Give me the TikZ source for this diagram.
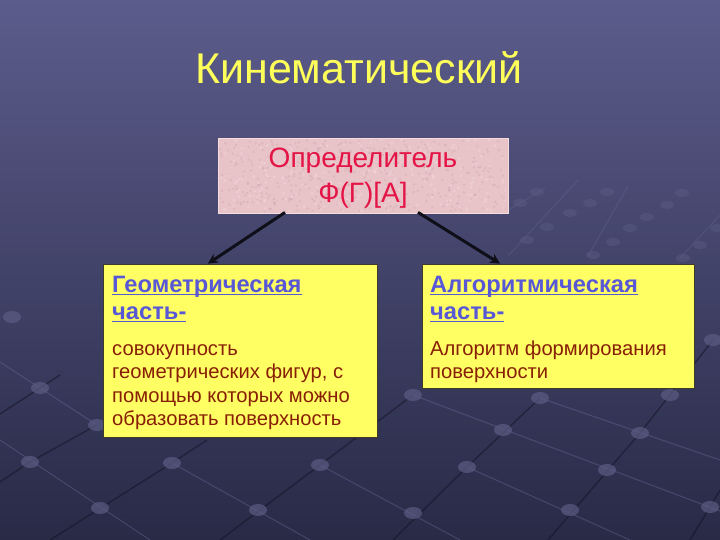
\documentclass[tikz,border=0pt]{standalone}
\usepackage{fontspec}
\setmainfont{Liberation Sans}
\usetikzlibrary{arrows.meta,shadings}

\definecolor{bgtop}{RGB}{92,92,140}
\definecolor{bgbot}{RGB}{40,42,70}
\definecolor{titlec}{RGB}{255,255,90}
\definecolor{pinkf}{RGB}{232,196,200}
\definecolor{pinkd}{RGB}{200,160,168}
\definecolor{pinkl}{RGB}{245,220,222}
\definecolor{crim}{RGB}{228,20,70}
\definecolor{yell}{RGB}{255,255,100}
\definecolor{headc}{RGB}{88,88,215}
\definecolor{bodyc}{RGB}{135,30,5}
\definecolor{gridl}{RGB}{115,115,160}
\definecolor{gridd}{RGB}{22,22,42}
\definecolor{dotc}{RGB}{92,92,132}
\definecolor{arrc}{RGB}{15,15,25}

\newcommand\myul[1]{\setbox0\hbox{#1}\rlap{\rule[-3.4pt]{\wd0}{1.9pt}}\box0}

\tikzset{
  lightline/.style={draw=gridl, line width=1.1pt, opacity=0.35},
  darkline/.style={draw=gridd, line width=1.4pt, opacity=0.6},
  griddot/.style={fill=dotc, opacity=0.7},
  fardot/.style={fill=dotc, opacity=0.45},
  ybox/.style={fill=yell, draw={rgb,255:red,60;green,60;blue,40}, line width=0.8pt, inner sep=0pt},
  headtxt/.style={anchor=base west, inner sep=0pt, text=headc, font=\fontsize{23.7}{28}\selectfont\bfseries},
  bodytxt/.style={anchor=base west, inner sep=0pt, text=bodyc, font=\fontsize{20.2}{24}\selectfont},
  dettxt/.style={anchor=base, inner sep=0pt, text=crim, font=\fontsize{28}{34}\selectfont},
  arr/.style={draw=arrc, line width=3pt, -{Stealth[length=10pt,width=10pt]}}
}

\begin{document}
\begin{tikzpicture}[x=1pt,y=-1pt]
\useasboundingbox (0,0) rectangle (720,540);
\shade[top color=bgtop, bottom color=bgbot] (0,0) rectangle (720,540);

% background perspective grid
\foreach \a/\b/\c/\d in {0/440/150/540, 172/463/310/540, 320/465/460/540, 413/395/720/511, 467/467/630/540, 540/398/720/460, 0/362/97/425}
  \path[lightline] (\a,\b) -- (\c,\d);
\foreach \a/\b/\c/\d/\e/\f in {713/340/640/433/548/540, 540/398/467/467/393/540, 413/395/320/465/220/540, 207/440/172/463/50/540, 97/425/30/462/0/482, 60/375/40/388/0/414, 720/490/710/507/690/540}
  \path[darkline] (\a,\b) -- (\c,\d) -- (\e,\f);
\foreach \x/\y in {40/388,413/395,540/398,670/395,97/425,503/430,640/433,30/462,172/463,320/465,467/467,607/470,100/508,258/510,413/513,570/510,710/507,12/317,713/340}
  \fill[griddot] (\x,\y) ellipse (9 and 6);
% far grid (upper right)
\foreach \a/\b/\c/\d in {508/256/578/180, 588/256/628/186, 680/258/720/215, 500/215/545/188}
  \path[lightline, opacity=0.25] (\a,\b) -- (\c,\d);
\foreach \x/\y in {537/192,520/203,570/213,547/227,527/240,590/203,607/192,647/217,630/228,613/242,593/255,667/205,682/193,700/245,683/258,717/228}
  \fill[fardot] (\x,\y) ellipse (7 and 4);

% title
\node[anchor=base, inner sep=0pt, text=titlec, font=\fontsize{43}{50}\selectfont] (title) at (359,84) {Кинематический};

% determinant box
\node[fill=pinkf, draw=pinkl, line width=0.8pt, minimum width=290pt, minimum height=75pt, inner sep=0pt] (det) at (363,175.5) {};
\pgfmathsetseed{7}
\foreach \i in {1,...,420} {
  \pgfmathsetmacro\px{220+286*rnd}
  \pgfmathsetmacro\py{140+71*rnd}
  \fill[pinkd, opacity=0.35] (\px,\py) circle (1.3);
}
\foreach \i in {1,...,250} {
  \pgfmathsetmacro\px{220+286*rnd}
  \pgfmathsetmacro\py{140+71*rnd}
  \fill[pinkl, opacity=0.5] (\px,\py) circle (1.3);
}
\node[dettxt] (detl1) at (363,168) {Определитель};
\node[dettxt] (detl2) at (363,203) {Ф(Г)[А]};

% yellow boxes
\node[ybox, minimum width=274pt, minimum height=173pt] (geo) at (240,350.5) {};
\node[ybox, minimum width=272pt, minimum height=124pt] (alg) at (558,326) {};

\node[headtxt] (geoh1) at (112,292) {\myul{Геометрическая}};
\node[headtxt] (geoh2) at (112,319) {\myul{часть-}};
\node[bodytxt] (geob1) at (112,355) {совокупность};
\node[bodytxt] (geob2) at (112,378.5) {геометрических фигур, с};
\node[bodytxt] (geob3) at (112,402) {помощью которых можно};
\node[bodytxt] (geob4) at (112,425.5) {образовать поверхность};

\node[headtxt] (algh1) at (430,292) {\myul{Алгоритмическая}};
\node[headtxt] (algh2) at (430,319) {\myul{часть-}};
\node[bodytxt] (algb1) at (430,355) {Алгоритм формирования};
\node[bodytxt] (algb2) at (430,378.5) {поверхности};

% arrows
\draw[arr] ([xshift=-78pt,yshift=1pt]det.south) -- ([xshift=-32pt]geo.north);
\draw[arr] ([xshift=55pt,yshift=1pt]det.south) -- ([xshift=-58pt]alg.north);
\end{tikzpicture}
\end{document}
